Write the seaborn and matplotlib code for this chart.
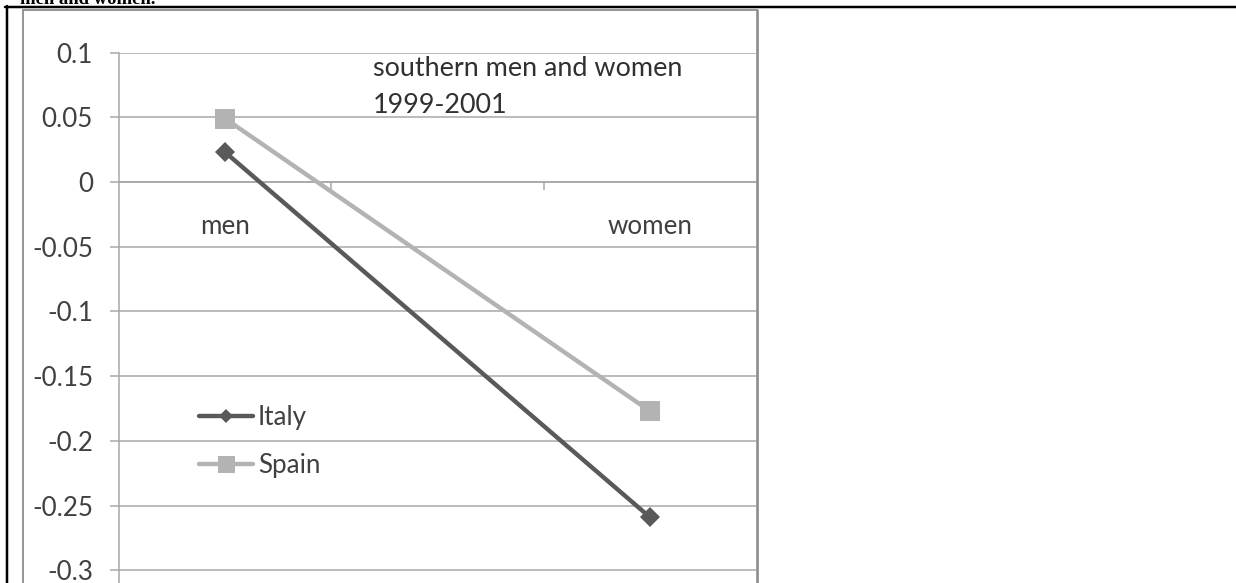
import numpy as np
import pandas as pd
import matplotlib
matplotlib.use("Agg")
import matplotlib.pyplot as plt
import seaborn as sns
from matplotlib.lines import Line2D

# ---- data -------------------------------------------------------------
groups = ["men", "women"]
countries = ["Italy", "Spain"]
italy = [0.023, -0.259]
spain = [0.049, -0.177]
y_ticks = [0.1, 0.05, 0, -0.05, -0.1, -0.15, -0.2, -0.25, -0.3]
y_tick_labels = ["0.1", "0.05", "0", "-0.05", "-0.1", "-0.15", "-0.2", "-0.25", "-0.3"]
note_lines = ["southern men and women", "1999-2001"]
caption_tail = "men and women."

# category axis has three slots; the two groups use the outer ones
slot_of_group = {"men": 0, "women": 2}

df = pd.DataFrame({
    "group": groups * 2,
    "country": [countries[0]] * 2 + [countries[1]] * 2,
    "value": italy + spain,
})
df["slot"] = df["group"].map(slot_of_group)

# ---- styling ----------------------------------------------------------
W, H, DPI = 1236, 583, 100
PX = 72.0 / DPI  # points per pixel

sns.set_theme(style="white")
plt.rcParams["font.family"] = ["Lato", "DejaVu Sans"]

colors = {"Italy": "#595959", "Spain": "#b3b3b3"}
markers = {"Italy": "D", "Spain": "s"}
marker_px = {"Italy": 14.0, "Spain": 20.0}
grid_color = "#a6a6a6"
text_color = "#404040"

fig = plt.figure(figsize=(W / DPI, H / DPI), dpi=DPI, facecolor="white")


def px_box(x0, y0, x1, y1):
    """Pixel box (origin top-left) -> figure fraction [l, b, w, h]."""
    return [x0 / W, 1 - y1 / H, (x1 - x0) / W, (y1 - y0) / H]


def fx(x):
    return x / W


def fy(y):
    return 1 - y / H


ymin, ymax = -0.35, 0.1
top_px, unit_px = 52.6, 1294.0
ax = fig.add_axes(px_box(119, top_px, 756, top_px + (ymax - ymin) * unit_px))
ax.set_facecolor("white")

for c in countries:
    sns.lineplot(
        data=df[df["country"] == c], x="slot", y="value",
        color=colors[c], marker=markers[c], markersize=marker_px[c] * PX,
        markeredgewidth=0, linewidth=4.4 * PX, legend=False, ax=ax,
        zorder=3, clip_on=False,
    )

ax.set_xlim(-0.5, 2.5)
ax.set_ylim(ymin, ymax)
ax.set_xlabel("")
ax.set_ylabel("")

# y axis
ax.set_yticks(y_ticks)
ax.set_yticklabels(y_tick_labels)
ax.yaxis.grid(True, color=grid_color, linewidth=1.5 * PX)
ax.tick_params(axis="y", which="major", direction="out", length=9 * PX,
               width=1.5 * PX, color=grid_color, pad=17 * PX,
               labelsize=26 * PX, labelcolor=text_color, left=True)

# x axis crosses at zero
ax.set_xticks([slot_of_group[g] for g in groups])
ax.set_xticklabels(groups)
ax.set_xticks([0.5, 1.5], minor=True)
ax.tick_params(axis="x", which="major", length=0, pad=32 * PX,
               labelsize=26 * PX, labelcolor=text_color, bottom=True)
ax.tick_params(axis="x", which="minor", direction="out", length=8 * PX,
               width=1.5 * PX, color=grid_color, bottom=True)

for side in ["top", "right"]:
    ax.spines[side].set_visible(False)
ax.spines["left"].set_color(grid_color)
ax.spines["left"].set_linewidth(1.5 * PX)
ax.spines["bottom"].set_position(("data", 0))
ax.spines["bottom"].set_color(grid_color)
ax.spines["bottom"].set_linewidth(1.5 * PX)

# legend
handles = [
    Line2D([], [], color=colors["Italy"], marker="D", markersize=10 * PX,
           markeredgewidth=0, linewidth=4.4 * PX),
    Line2D([], [], color=colors["Spain"], marker="s", markersize=17 * PX,
           markeredgewidth=0, linewidth=4.4 * PX),
]
leg_fs = 26 * PX
ax.legend(handles, countries, loc="center left",
          bbox_to_anchor=(fx(199), fy(441.5)), bbox_transform=fig.transFigure,
          frameon=False, borderpad=0, borderaxespad=0,
          handlelength=54 / 26, handletextpad=5 / 26, labelspacing=0.86,
          prop={"size": leg_fs}, labelcolor=text_color)

# note inside the plot
note_fs = 27 * PX
fig.text(fx(373), fy(76), note_lines[0], fontsize=note_fs, color="#303030",
         va="baseline", ha="left")
fig.text(fx(373), fy(113), note_lines[1], fontsize=note_fs, color="#303030",
         va="baseline", ha="left")

# chart frame
frame_c = "#8c8c8c"
fig.add_artist(Line2D([fx(22.5), fx(22.5)], [fy(10), fy(583)], color=frame_c,
                      linewidth=1.8 * PX, transform=fig.transFigure))
fig.add_artist(Line2D([fx(22.5), fx(756.5)], [fy(10), fy(10)], color=frame_c,
                      linewidth=1.8 * PX, transform=fig.transFigure))
fig.add_artist(Line2D([fx(756.5), fx(756.5)], [fy(10), fy(583)], color=frame_c,
                      linewidth=2.6 * PX, transform=fig.transFigure))

# page table rules
fig.add_artist(Line2D([fx(5), fx(1236)], [fy(7), fy(7)], color="black",
                      linewidth=2.5 * PX, transform=fig.transFigure))
fig.add_artist(Line2D([fx(6.5), fx(6.5)], [fy(6), fy(583)], color="black",
                      linewidth=2.5 * PX, transform=fig.transFigure))

# tail of the caption above the table
fig.text(fx(20), fy(4.5), caption_tail, fontsize=18.6 * PX, color="black",
         family=["Liberation Serif", "DejaVu Serif"], fontweight="bold",
         va="baseline", ha="left")

fig.savefig("out.png", dpi=DPI, facecolor="white")
